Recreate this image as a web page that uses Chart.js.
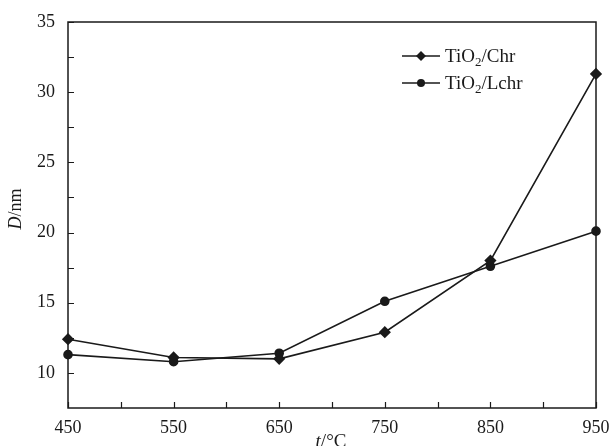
<!DOCTYPE html>
<html>
<head>
<meta charset="utf-8">
<script src="https://cdn.jsdelivr.net/npm/chart.js@4.4.1/dist/chart.umd.min.js"></script>
<style>
  html, body { margin: 0; padding: 0; background: #fff; }
  #wrap { width: 611px; height: 446px; position: relative; }
</style>
</head>
<body>
<div id="wrap"><canvas id="chart"></canvas></div>
<script>
// Temperatures (°C) and crystallite size D (nm)
const temps = [450, 550, 650, 750, 850, 950];
const chrSize = [12.4, 11.1, 11.0, 12.9, 18.0, 31.3];
const lchrSize = [11.3, 10.8, 11.4, 15.1, 17.6, 20.1];
const xTicks = [450, 550, 650, 750, 850, 950];
const yTicks = [10, 15, 20, 25, 30, 35];
const xMinor = [500, 600, 700, 800, 900];
const yMinor = [12.5, 17.5, 22.5, 27.5, 32.5];
const seriesNames = ['Chr', 'Lchr'];

const INK = '#1a1a1a';
const SERIF = "'Liberation Serif', 'Times New Roman', serif";

// frame, inward ticks, axis titles, legend
const framePlugin = {
    id: 'frame',
    afterDraw(chart) {
        const { ctx, chartArea: a, scales: { x, y } } = chart;
        ctx.save();
        ctx.strokeStyle = INK;
        ctx.lineWidth = 1.5;
        ctx.strokeRect(a.left, a.top, a.right - a.left, a.bottom - a.top);

        ctx.lineWidth = 1.2;
        ctx.beginPath();
        xTicks.concat(xMinor).forEach(v => {
            const px = Math.round(x.getPixelForValue(v)) + 0.5;
            ctx.moveTo(px, a.bottom);
            ctx.lineTo(px, a.bottom - 6);
        });
        yTicks.concat(yMinor).forEach(v => {
            const py = Math.round(y.getPixelForValue(v)) + 0.5;
            ctx.moveTo(a.left, py);
            ctx.lineTo(a.left + 6, py);
        });
        ctx.stroke();

        // axis titles
        ctx.fillStyle = INK;
        ctx.textBaseline = 'middle';
        const drawMixed = (parts, cx, cy) => {
            let w = 0;
            parts.forEach(p => { ctx.font = p.font; w += ctx.measureText(p.t).width; });
            let px = cx - w / 2;
            ctx.textAlign = 'left';
            parts.forEach(p => {
                ctx.font = p.font;
                ctx.fillText(p.t, px, cy);
                px += ctx.measureText(p.t).width;
            });
        };
        drawMixed([
            { t: 't', font: `italic 19px ${SERIF}` },
            { t: '/°C', font: `19px ${SERIF}` }
        ], 331, 442);

        ctx.save();
        ctx.translate(16, (a.top + a.bottom) / 2 - 6);
        ctx.rotate(-Math.PI / 2);
        drawMixed([
            { t: 'D', font: `italic 18px ${SERIF}` },
            { t: '/nm', font: `18px ${SERIF}` }
        ], 0, 0);
        ctx.restore();

        // legend
        const rows = [56, 83];
        chart.data.datasets.forEach((ds, i) => {
            const ly = rows[i];
            ctx.strokeStyle = INK;
            ctx.lineWidth = 1.5;
            ctx.beginPath();
            ctx.moveTo(402, ly);
            ctx.lineTo(440, ly);
            ctx.stroke();
            ctx.fillStyle = INK;
            ctx.beginPath();
            if (ds.pointStyle === 'rectRot') {
                ctx.moveTo(421, ly - 5); ctx.lineTo(426, ly); ctx.lineTo(421, ly + 5); ctx.lineTo(416, ly);
                ctx.closePath();
            } else {
                ctx.arc(421, ly, 4, 0, Math.PI * 2);
            }
            ctx.fill();

            ctx.textAlign = 'left';
            ctx.textBaseline = 'alphabetic';
            let tx = 445;
            ctx.font = `19px ${SERIF}`;
            ctx.fillText('TiO', tx, ly + 6);
            tx += ctx.measureText('TiO').width;
            ctx.font = `13px ${SERIF}`;
            ctx.fillText('2', tx, ly + 10);
            tx += ctx.measureText('2').width;
            ctx.font = `19px ${SERIF}`;
            ctx.fillText('/' + seriesNames[i], tx, ly + 6);
        });
        ctx.restore();
    }
};

const toPoints = arr => arr.map((v, i) => ({ x: temps[i], y: v }));

new Chart(document.getElementById('chart'), {
    type: 'line',
    data: {
        datasets: [
            {
                label: 'TiO2/Chr',
                data: toPoints(chrSize),
                borderColor: INK,
                backgroundColor: INK,
                borderWidth: 1.6,
                pointStyle: 'rectRot',
                pointRadius: 5,
                tension: 0,
                clip: false
            },
            {
                label: 'TiO2/Lchr',
                data: toPoints(lchrSize),
                borderColor: INK,
                backgroundColor: INK,
                borderWidth: 1.6,
                pointStyle: 'circle',
                pointRadius: 4,
                tension: 0,
                clip: false
            }
        ]
    },
    options: {
        responsive: true,
        maintainAspectRatio: false,
        animation: false,
        layout: { padding: { left: 0, top: 22, right: 15, bottom: 0 } },
        plugins: {
            legend: { display: false },
            tooltip: { enabled: false }
        },
        scales: {
            x: {
                type: 'linear',
                min: 450,
                max: 950,
                afterBuildTicks: s => { s.ticks = xTicks.map(v => ({ value: v })); },
                afterFit: s => { s.height = 38; s.paddingLeft = 0; s.paddingRight = 0; },
                grid: { display: false, drawTicks: false },
                border: { display: false },
                ticks: {
                    color: INK,
                    padding: 9,
                    maxRotation: 0,
                    font: { family: SERIF, size: 18 }
                }
            },
            y: {
                type: 'linear',
                min: 7.5,
                max: 35,
                afterBuildTicks: s => { s.ticks = yTicks.map(v => ({ value: v })); },
                afterFit: s => { s.width = 68; s.paddingTop = 0; s.paddingBottom = 0; },
                grid: { display: false, drawTicks: false },
                border: { display: false },
                ticks: {
                    color: INK,
                    padding: 13,
                    font: { family: SERIF, size: 18 }
                }
            }
        }
    },
    plugins: [framePlugin]
});
</script>
</body>
</html>
